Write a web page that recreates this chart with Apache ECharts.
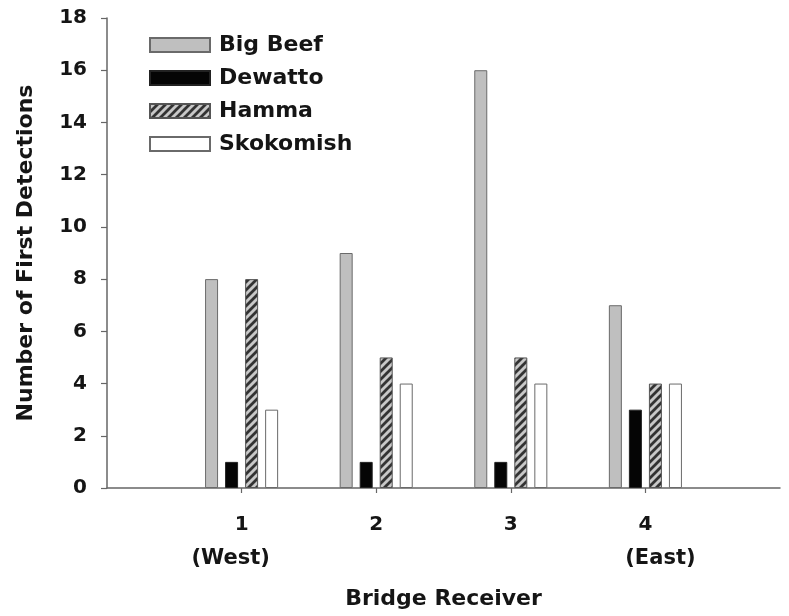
<!DOCTYPE html>
<html>
<head>
<meta charset="utf-8">
<style>
  html, body { margin: 0; padding: 0; background: #fff; }
  #chart { width: 789px; height: 616px; }
</style>
<script src="https://cdn.jsdelivr.net/npm/echarts@6/dist/echarts.min.js"></script>
</head>
<body>
<div id="chart"></div>
<script>
// Receivers along the bridge, west to east
const receivers = ['1', '2', '3', '4'];
const receiverSides = ['West', '', '', 'East'];

// First detections per stream population at each receiver
const bigBeef = [8, 9, 16, 7];
const dewatto = [1, 1, 1, 3];
const hamma = [8, 5, 5, 4];
const skokomish = [3, 4, 4, 4];

const yTicks = [0, 2, 4, 6, 8, 10, 12, 14, 16, 18];

const FONT = 'DejaVu Sans';
const INK = '#151515';

// Diagonal hatch tile for the Hamma bars
function hatchTile() {
  const s = 8;
  const c = document.createElement('canvas');
  c.width = s; c.height = s;
  const g = c.getContext('2d');
  g.fillStyle = '#c8c8c8';
  g.fillRect(0, 0, s, s);
  g.strokeStyle = '#333333';
  g.lineWidth = 2.8;
  g.beginPath();
  g.moveTo(-1, s + 1); g.lineTo(s + 1, -1);
  g.moveTo(-1, 1); g.lineTo(1, -1);
  g.moveTo(s - 1, s + 1); g.lineTo(s + 1, s - 1);
  g.stroke();
  return c;
}
const hatch = { image: hatchTile(), repeat: 'repeat' };

// Empty slots either side keep the four receivers inset from the axis ends
const categories = [''].concat(receivers, ['']);
const pad = arr => [null].concat(arr, [null]);

function receiverLabel(value, index) {
  const i = index - 1;
  if (i < 0 || i >= receivers.length) return '';
  const side = receiverSides[i];
  if (side === 'West') return '{n|' + value + '}\n{w|(' + side + ')}';
  if (side === 'East') return '{n|' + value + '}\n{e|(' + side + ')}';
  return '{n|' + value + '}';
}

const barCommon = {
  type: 'bar',
  barWidth: 13,
  barGap: '54%',
  emphasis: { disabled: true }
};

const chart = echarts.init(document.getElementById('chart'), null, { renderer: 'canvas' });
chart.setOption({
  animation: false,
  backgroundColor: '#ffffff',
  textStyle: { fontFamily: FONT, fontWeight: 'bold', color: INK },
  grid: { left: 107, right: 9, top: 18, bottom: 128, containLabel: false },
  legend: {
    left: 144,
    top: 29,
    orient: 'vertical',
    itemWidth: 60,
    itemHeight: 14,
    itemGap: 11,
    icon: 'rect',
    selectedMode: false,
    textStyle: {
      fontFamily: FONT, fontWeight: 'bold', fontSize: 22, color: INK,
      lineHeight: 22, padding: [0, 0, 0, 4]
    }
  },
  xAxis: {
    type: 'category',
    data: categories,
    boundaryGap: false,
    name: 'Bridge Receiver',
    nameLocation: 'middle',
    nameGap: 100,
    nameTextStyle: { fontFamily: FONT, fontWeight: 'bold', fontSize: 22, color: INK },
    axisLine: { lineStyle: { color: '#666', width: 1.5 } },
    axisTick: {
      show: true,
      length: 5,
      interval: (index) => index >= 1 && index <= receivers.length,
      lineStyle: { color: '#666', width: 1.2 }
    },
    axisLabel: {
      interval: 0,
      margin: 20,
      formatter: receiverLabel,
      rich: {
        n: { fontFamily: FONT, fontWeight: 'bold', fontSize: 20, color: INK, lineHeight: 34 },
        w: { fontFamily: FONT, fontWeight: 'bold', fontSize: 21, color: INK, lineHeight: 34, padding: [0, 22, 0, 0] },
        e: { fontFamily: FONT, fontWeight: 'bold', fontSize: 21, color: INK, lineHeight: 34, padding: [0, 0, 0, 30] }
      }
    },
    splitLine: { show: false }
  },
  yAxis: {
    type: 'value',
    min: yTicks[0],
    max: yTicks[yTicks.length - 1],
    interval: yTicks[1] - yTicks[0],
    name: 'Number of First Detections',
    nameLocation: 'middle',
    nameGap: 70,
    nameTextStyle: { fontFamily: FONT, fontWeight: 'bold', fontSize: 22, color: INK },
    axisLine: { show: true, lineStyle: { color: '#666', width: 1.5 } },
    axisTick: { show: true, length: 6, lineStyle: { color: '#666', width: 1.2 } },
    axisLabel: { margin: 20, fontFamily: FONT, fontWeight: 'bold', fontSize: 20, color: INK },
    splitLine: { show: false }
  },
  series: [
    Object.assign({}, barCommon, {
      name: 'Big Beef',
      data: pad(bigBeef),
      itemStyle: { color: '#bfbfbf', borderColor: '#6a6a6a', borderWidth: 1 }
    }),
    Object.assign({}, barCommon, {
      name: 'Dewatto',
      data: pad(dewatto),
      itemStyle: { color: '#050505', borderColor: '#222', borderWidth: 1 }
    }),
    Object.assign({}, barCommon, {
      name: 'Hamma',
      data: pad(hamma),
      itemStyle: { color: hatch, borderColor: '#555', borderWidth: 1 }
    }),
    Object.assign({}, barCommon, {
      name: 'Skokomish',
      data: pad(skokomish),
      itemStyle: { color: '#ffffff', borderColor: '#6a6a6a', borderWidth: 1 }
    })
  ]
});
</script>
</body>
</html>
